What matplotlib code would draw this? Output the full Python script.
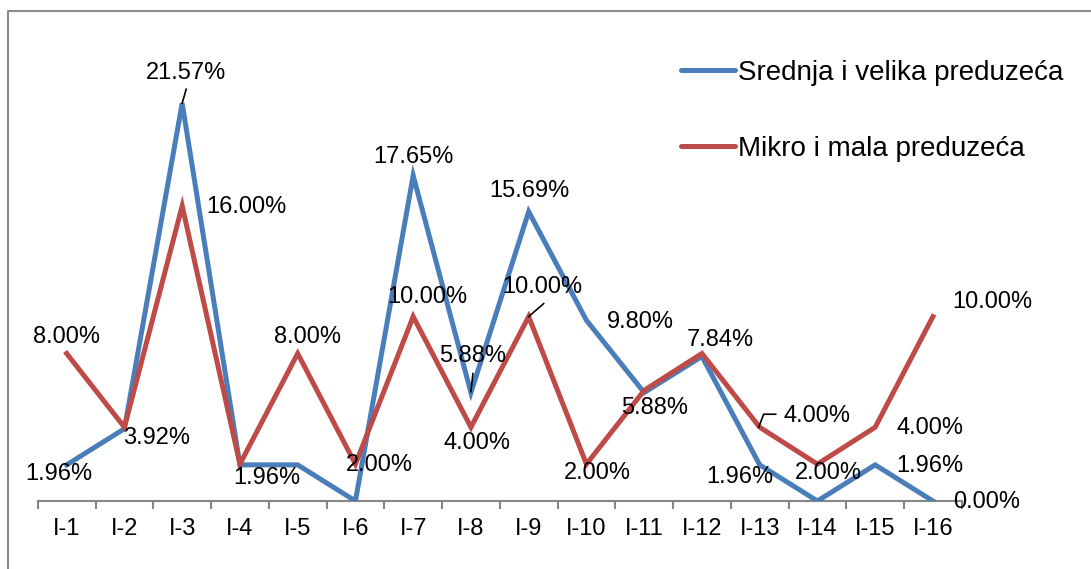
import matplotlib
matplotlib.use("Agg")
import matplotlib.pyplot as plt
from matplotlib.lines import Line2D
from matplotlib.transforms import IdentityTransform

plt.rcParams['font.family'] = ['Liberation Sans', 'DejaVu Sans']

categories = ["I-1", "I-2", "I-3", "I-4", "I-5", "I-6", "I-7", "I-8",
              "I-9", "I-10", "I-11", "I-12", "I-13", "I-14", "I-15", "I-16"]
srednja_velika = [1.96, 3.92, 21.57, 1.96, 1.96, 0.00, 17.65, 5.88,
                  15.69, 9.80, 5.88, 7.84, 1.96, 0.00, 1.96, 0.00]
mikro_mala = [8.00, 4.00, 16.00, 2.00, 8.00, 2.00, 10.00, 4.00,
              10.00, 2.00, 6.00, 8.00, 4.00, 2.00, 4.00, 10.00]
series_names = ["Srednja i velika preduzeća", "Mikro i mala preduzeća"]

BLUE = "#4A7EBB"
RED = "#BE4B48"
W, H = 1091, 569
LABEL_FS = 17
fig = plt.figure(figsize=(W / 100, H / 100), dpi=100)
ax = fig.add_axes([37.8 / W, (H - 501) / H, 924 / W, 461 / H])

x = list(range(1, len(categories) + 1))
ax.plot(x, srednja_velika, color=BLUE, lw=3.6, solid_joinstyle='miter',
        label=series_names[0], zorder=3)
ax.plot(x, mikro_mala, color=RED, lw=3.6, solid_joinstyle='miter',
        label=series_names[1], zorder=3)

ax.set_xlim(0.5, len(categories) + 0.5)
ax.set_ylim(0, 25)
for s in ['top', 'right', 'left']:
    ax.spines[s].set_visible(False)
ax.spines['bottom'].set_color('#868686')
ax.spines['bottom'].set_linewidth(1.5)
ax.set_yticks([])
ax.set_xticks(x)
ax.set_xticklabels(categories, fontsize=LABEL_FS)
ax.tick_params(axis='x', which='major', length=0, pad=12.2)
ax.set_xticks([i + 0.5 for i in range(0, len(categories) + 1)], minor=True)
ax.tick_params(axis='x', which='minor', length=5.5, width=1.5, color='#868686',
               direction='out')

# data labels: (series index, category index, dx px, dy px)
label_pos = [
    (0, 0, -8, -9), (0, 1, 32, -9), (0, 2, 4, 30), (1, 2, 64, -1),
    (0, 3, 27, -13), (1, 0, 0, 16), (1, 4, 10, 16), (1, 5, 24, -1),
    (0, 6, 0, 19), (1, 6, 14, 19.5), (0, 7, 2, 37), (1, 7, 6, -16),
    (0, 8, 1, 21), (1, 8, 14, 29.5), (0, 9, 54, -2), (1, 9, 11, -9),
    (0, 10, 10, -15.5), (0, 11, 18, 16), (0, 12, -20, -12), (1, 12, 57, 11),
    (1, 13, 11, -9), (1, 14, 55, -1), (0, 14, 55, -1), (0, 15, 54, -1),
    (1, 15, 59, 14.5),
]
data = [srednja_velika, mikro_mala]
for si, ci, dx, dy in label_pos:
    v = data[si][ci]
    ax.annotate(f"{v:.2f}%", xy=(x[ci], v), xytext=(dx, dy),
                textcoords='offset pixels', ha='center', va='center',
                fontsize=LABEL_FS, color='black', zorder=5)

# leader lines (pixel offsets from the data point)
leaders = [
    (0, 2, [(0, 0), (4, 14)]),
    (0, 7, [(0, 1), (2, 19)]),
    (1, 8, [(0, 0), (15, 13)]),
    (1, 12, [(-1, 0), (4, 13), (16, 13)]),
]
fig.canvas.draw()
for si, ci, pts in leaders:
    px, py = ax.transData.transform((x[ci], data[si][ci]))
    xs = [px + a for a, b in pts]
    ys = [py + b for a, b in pts]
    fig.add_artist(Line2D(xs, ys, transform=IdentityTransform(), color='black',
                          lw=1.2, zorder=6))

leg = ax.legend(loc='upper left', bbox_to_anchor=(681 / W, (H - 60) / H),
                bbox_transform=fig.transFigure, frameon=False, fontsize=20,
                handlelength=1.95, handletextpad=0.1, labelspacing=1.8,
                borderpad=0, borderaxespad=0)
for ln in leg.get_lines():
    ln.set_linewidth(3.6)
    ln.set_solid_capstyle('round')

# outer chart border (top and left edges visible)
fig.add_artist(Line2D([8, 8, W + 5], [-5, H - 11, H - 11],
                      transform=IdentityTransform(), color='#8c8c8c', lw=1.5))

fig.savefig("out.png", dpi=100)
